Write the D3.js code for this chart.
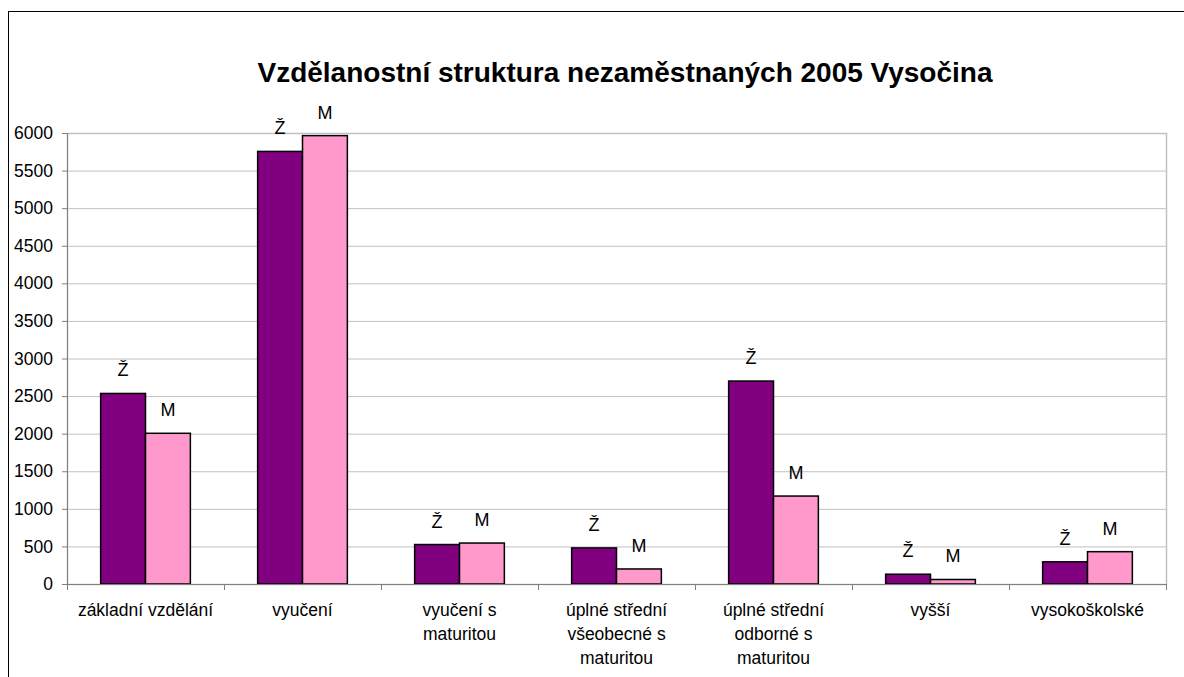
<!DOCTYPE html>
<html lang="cs">
  <head>
    <meta charset="utf-8" />
    <script src="https://d3js.org/d3.v7.min.js" charset="utf-8"></script>
    <style>
      body {
        margin: 0;
        background: #fff;
        font-family: 'Liberation Sans', Arial, sans-serif;
      }
      .axis path {
        stroke: #808080;
      }
      .axis line {
        stroke: #808080;
      }
      .axis text {
        font-family: 'Liberation Sans', Arial, sans-serif;
        font-size: 17.5px;
        fill: #000;
      }
      .grid line {
        stroke: #c0c0c0;
      }
      .grid path {
        stroke-width: 0;
      }
    </style>
  </head>
  <body>
    <div id="chart"></div>
    <script>
      // data //--------------------------------------------------------
      var categories = [
        'základní vzdělání',
        'vyučení',
        'vyučení s\nmaturitou',
        'úplné střední\nvšeobecné s\nmaturitou',
        'úplné střední\nodborné s\nmaturitou',
        'vyšší',
        'vysokoškolské'
      ];
      var series = ['Ž', 'M'];
      var zeny = [2535, 5755, 525, 480, 2700, 130, 295];
      var muzi = [2005, 5965, 545, 200, 1170, 60, 430];
      var yTicks = [0, 500, 1000, 1500, 2000, 2500, 3000, 3500, 4000, 4500, 5000, 5500, 6000];
      var title = 'Vzdělanostní struktura nezaměstnaných 2005 Vysočina';
      var colors = { 'Ž': '#800080', 'M': '#ff99cc' };

      // layout //------------------------------------------------------
      var W = 1184, H = 677;
      var plot = { left: 67, right: 1166, top: 133, bottom: 584 };

      var svg = d3.select('#chart').append('svg')
        .attr('width', W)
        .attr('height', H);

      // outer chart frame
      svg.append('rect')
        .attr('x', 8.5).attr('y', 11.5)
        .attr('width', 1300).attr('height', 800)
        .attr('fill', '#fff')
        .attr('stroke', '#000')
        .attr('stroke-width', 1);

      // scales
      var y = d3.scaleLinear().domain([0, 6000]).range([plot.bottom, plot.top]);
      var x = d3.scaleBand().domain(categories).range([plot.left, plot.right]);
      var xs = d3.scaleBand().domain(series).range([0, x.bandwidth()]).paddingOuter(0.75);
      var xb = d3.scaleLinear().domain([0, categories.length]).range([plot.left, plot.right]);

      // plot area border (grey)
      svg.append('rect')
        .attr('x', plot.left + 0.5).attr('y', plot.top + 0.5)
        .attr('width', plot.right - plot.left).attr('height', plot.bottom - plot.top)
        .attr('fill', 'none')
        .attr('stroke', '#c0c0c0')
        .attr('stroke-width', 1.5);

      // gridlines
      svg.append('g')
        .attr('class', 'grid')
        .attr('transform', 'translate(' + plot.left + ',0)')
        .call(d3.axisLeft(y).tickValues(yTicks).tickSize(-(plot.right - plot.left)).tickFormat(''));

      // bars
      var rows = categories.map(function (c, i) {
        return { cat: c, values: [{ s: 'Ž', v: zeny[i] }, { s: 'M', v: muzi[i] }] };
      });

      var groups = svg.append('g').selectAll('g')
        .data(rows)
        .join('g')
        .attr('transform', function (d) { return 'translate(' + x(d.cat) + ',0)'; });

      groups.selectAll('rect')
        .data(function (d) { return d.values; })
        .join('rect')
        .attr('x', function (d) { return xs(d.s); })
        .attr('y', function (d) { return y(d.v); })
        .attr('width', xs.bandwidth())
        .attr('height', function (d) { return y(0) - y(d.v); })
        .attr('fill', function (d) { return colors[d.s]; })
        .attr('stroke', '#000')
        .attr('stroke-width', 1.5);

      groups.selectAll('text')
        .data(function (d) { return d.values; })
        .join('text')
        .attr('x', function (d) { return xs(d.s) + xs.bandwidth() / 2; })
        .attr('y', function (d) { return y(d.v) - 17; })
        .attr('text-anchor', 'middle')
        .style('font-size', '18px')
        .text(function (d) { return d.s; });

      // y axis
      svg.append('g')
        .attr('class', 'axis')
        .attr('transform', 'translate(' + plot.left + ',0)')
        .call(d3.axisLeft(y).tickValues(yTicks).tickSize(5).tickSizeOuter(0).tickPadding(9).tickFormat(d3.format('d')))
        .select('.domain').attr('d', 'M0.5,' + plot.top + 'V' + (plot.bottom + 6));

      // x axis: category boundary ticks
      svg.append('g')
        .attr('class', 'axis')
        .attr('transform', 'translate(0,' + plot.bottom + ')')
        .call(d3.axisBottom(xb).tickValues(d3.range(0, categories.length + 1)).tickSize(6).tickSizeOuter(0).tickFormat(''));

      // x axis labels (multi-line)
      var lab = svg.append('g')
        .attr('class', 'axis')
        .attr('transform', 'translate(0,' + plot.bottom + ')')
        .call(d3.axisBottom(x).tickSize(0).tickPadding(0));
      lab.select('.domain').remove();
      lab.selectAll('.tick text').each(function (d) {
        var t = d3.select(this);
        var lines = d.split('\n');
        t.text(null).attr('y', 0).attr('dy', null);
        lines.forEach(function (ln, i) {
          t.append('tspan').attr('x', 0).attr('y', 32 + i * 24).text(ln);
        });
      });

      // title
      svg.append('text')
        .attr('x', 625)
        .attr('y', 82)
        .attr('text-anchor', 'middle')
        .style('font-size', '28px')
        .style('font-weight', 'bold')
        .text(title);
    </script>
  </body>
</html>
